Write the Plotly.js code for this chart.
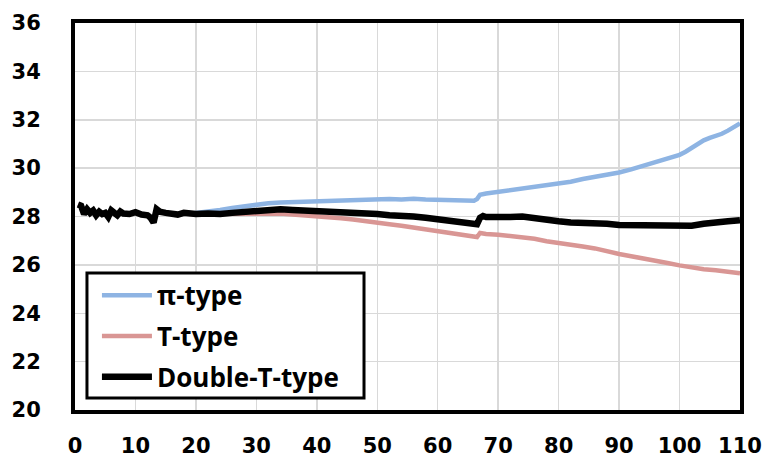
<!DOCTYPE html>
<html>
<head>
<meta charset="utf-8">
<script src="https://cdn.plot.ly/plotly-3.0.1.min.js"></script>
<style>html,body{margin:0;padding:0;background:#fff}#chart{width:767px;height:463px}</style>
</head>
<body>
<div id="chart"></div>
<script>
// Shared start (all three curves overlap before x=20)
const earlyX = [0.5,1,1.5,2,2.5,3,3.5,4,4.5,5,5.5,6,6.5,7,7.5,8,9,10,11,12,12.5,13,13.5,14,15,16,17,18,19];
const earlyY = [28.5,28.45,28.1,28.3,28.15,28.25,28.05,28.2,28.1,28.15,27.98,28.25,28.15,28.05,28.2,28.12,28.1,28.18,28.08,28.05,27.95,27.75,28.3,28.2,28.15,28.12,28.08,28.15,28.1];

// π-type
const piX = [20,22,24,26,28,30,32,34,36,38,40,42,44,46,48,50,52,54,56,58,60,62,64,66,66.5,67,68,70,72,74,76,78,80,82,84,86,88,90,92,94,96,98,100,101,102,103,104,105,106,107,108,109,110];
const piY = [28.15,28.2,28.27,28.35,28.42,28.5,28.55,28.58,28.6,28.62,28.63,28.65,28.66,28.7,28.68,28.7,28.72,28.7,28.73,28.7,28.68,28.66,28.63,28.65,28.72,28.9,28.95,29.02,29.08,29.15,29.22,29.28,29.36,29.44,29.55,29.63,29.72,29.82,29.95,30.1,30.25,30.4,30.55,30.68,30.85,31.02,31.15,31.25,31.33,31.42,31.55,31.7,31.85];

// T-type
const tX = [20,22,24,26,28,30,32,34,36,38,40,42,44,46,48,50,52,54,56,58,60,62,64,66,66.5,67,68,70,72,74,76,78,80,82,84,86,88,90,92,94,96,98,100,102,104,106,108,110];
const tY = [28.1,28.1,28.1,28.1,28.12,28.12,28.13,28.12,28.08,28.05,28.02,27.98,27.93,27.88,27.8,27.75,27.68,27.62,27.55,27.48,27.4,27.32,27.25,27.18,27.15,27.32,27.28,27.25,27.2,27.15,27.08,26.98,26.92,26.85,26.76,26.68,26.55,26.45,26.36,26.28,26.18,26.08,25.98,25.88,25.82,25.78,25.72,25.65];

// Double-T-type
const dtX = [20,22,24,26,28,30,32,34,36,38,40,42,44,46,48,50,52,54,56,58,60,62,64,66,66.5,67,67.5,68,70,72,74,76,78,80,82,84,86,88,90,92,94,96,98,100,102,104,106,108,110];
const dtY = [28.1,28.12,28.1,28.15,28.2,28.25,28.28,28.3,28.27,28.25,28.25,28.22,28.2,28.15,28.12,28.1,28.05,28.05,28.0,27.95,27.88,27.8,27.78,27.72,27.68,27.95,28.02,27.98,27.95,27.98,28.0,27.92,27.85,27.8,27.75,27.75,27.72,27.7,27.65,27.65,27.62,27.6,27.6,27.6,27.62,27.7,27.78,27.8,27.85];

const seriesNames = ['π-type','T-type','Double-T-type'];
const xTicks = [0,10,20,30,40,50,60,70,80,90,100,110];
const yTicks = [20,22,24,26,28,30,32,34,36];

const TICKFONT = {family:'"DejaVu Sans", sans-serif', size:21, color:'#000', weight:700};
const LEGFONT = {family:'"Open Sans", sans-serif', size:26, color:'#000', weight:700};

const traces = [
  {x: earlyX.concat(piX), y: earlyY.concat(piY), name: seriesNames[0], legendgroup:'a',
   mode:'lines', line:{color:'#8EB4E3', width:4.5}},
  {x: earlyX.concat(tX), y: earlyY.concat(tY), name: seriesNames[1], legendgroup:'b',
   mode:'lines', line:{color:'#D99694', width:4.5}},
  {x: earlyX.concat(dtX), y: earlyY.concat(dtY), name: seriesNames[2], legendgroup:'c',
   mode:'lines', line:{color:'#000000', width:6.5}}
];

const layout = {
  width:767, height:463,
  margin:{l:75, r:27, t:23, b:53},
  paper_bgcolor:'#fff', plot_bgcolor:'#fff',
  font:TICKFONT,
  showlegend:true,
  legend:{x:0.033, y:0.357, xanchor:'left', yanchor:'top',
          bgcolor:'rgba(0,0,0,0)', borderwidth:0,
          font:LEGFONT, itemwidth:50, tracegroupgap:4},
  shapes:[{type:'rect', xref:'paper', yref:'paper', layer:'above',
           x0:0.018, x1:0.4346, y0:0.031, y1:0.354,
           line:{color:'#000', width:3}, fillcolor:'#fff'}],
  xaxis:{range:[0,110], tickvals:xTicks, ticktext:xTicks.map(String),
         showgrid:true, gridcolor:'#D9D9D9', gridwidth:1.5,
         showline:true, linecolor:'#000', linewidth:4, mirror:true,
         ticks:'outside', ticklen:14, tickcolor:'rgba(0,0,0,0)',
         zeroline:false, fixedrange:true, tickfont:TICKFONT},
  yaxis:{range:[20,36], tickvals:yTicks, ticktext:yTicks.map(String),
         showgrid:true, gridcolor:'#D9D9D9', gridwidth:1.5,
         showline:true, linecolor:'#000', linewidth:4, mirror:true,
         ticks:'outside', ticklen:26, tickcolor:'rgba(0,0,0,0)',
         zeroline:false, fixedrange:true, tickfont:TICKFONT}
};

Plotly.newPlot('chart', traces, layout, {displayModeBar:false, staticPlot:true});
</script>
</body>
</html>
